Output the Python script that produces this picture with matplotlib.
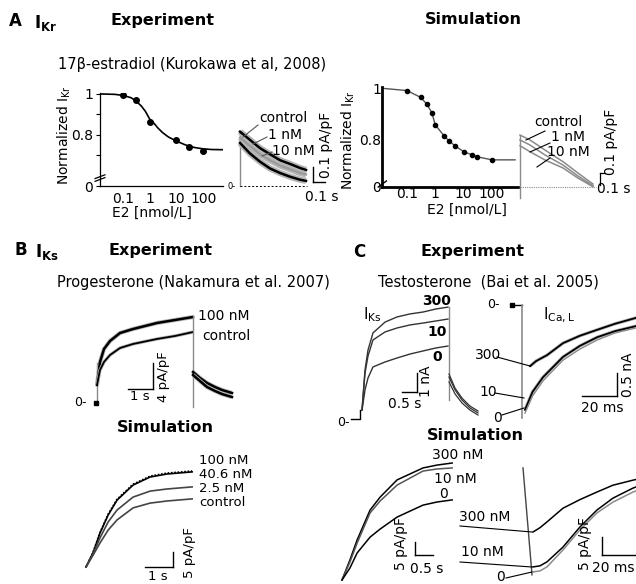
import matplotlib
matplotlib.use('Agg')
import matplotlib.pyplot as plt
from matplotlib.lines import Line2D
from matplotlib.ticker import NullLocator

W, H = 636, 584
GRAY = '#8a8a8a'

# ---------------- data ----------------
# A: normalised I_Kr vs E2 (nmol/L)
ikr_exp_conc = [0.1, 0.3, 1, 10, 30, 100]
ikr_exp_norm = [0.995, 0.97, 0.865, 0.776, 0.74, 0.723]
ikr_exp_err = [0.005, 0.005, 0.012, 0.012, 0.005, 0.008]
ikr_fit_conc = [0.0145, 0.05, 0.1, 0.2, 0.3, 0.5, 0.7, 1, 1.5, 2, 3, 5, 10, 20, 30, 50, 100, 200, 500]
ikr_fit_norm = [1.0, 0.998, 0.993, 0.982, 0.968, 0.94, 0.915, 0.878, 0.855, 0.835, 0.812, 0.79,
                0.77, 0.753, 0.745, 0.738, 0.732, 0.729, 0.728]
ikr_sim_conc = [0.013, 0.1, 0.3, 0.5, 0.75, 1, 2, 3, 5, 10, 20, 30, 100, 660]
ikr_sim_norm = [1.0, 0.991, 0.965, 0.939, 0.906, 0.858, 0.817, 0.797, 0.777, 0.755, 0.742, 0.735, 0.723, 0.723]

# A: I_Kr tail currents (s, pA/pF)
ikr_exp_t = [0, 0.083, 0.167, 0.25, 0.333, 0.417, 0.5, 0.55]
ikr_exp_ctl = [0.36, 0.305, 0.25, 0.21, 0.17, 0.145, 0.118, 0.105]
ikr_exp_1nm = [0.32, 0.265, 0.21, 0.17, 0.135, 0.11, 0.085, 0.075]
ikr_exp_10nm = [0.285, 0.215, 0.16, 0.115, 0.085, 0.06, 0.04, 0.032]
ikr_sim_t = [0, 0.083, 0.208, 0.358, 0.483, 0.608]
ikr_sim_ctl = [0.371, 0.336, 0.264, 0.181, 0.1, 0.021]
ikr_sim_1nm = [0.336, 0.3, 0.229, 0.157, 0.079, 0.009]
ikr_sim_10nm = [0.295, 0.252, 0.193, 0.136, 0.064, 0.002]

# B: I_Ks, progesterone (s, pA/pF)
iks_exp_t = [0, 0.12, 0.28, 0.52, 0.92, 1.44, 2.4, 3.12, 3.84]
iks_exp_100 = [2.77, 6.31, 8.31, 9.54, 10.77, 11.38, 12.31, 12.77, 13.23]
iks_exp_ctl = [2.77, 5.08, 6.31, 7.38, 8.46, 9.08, 9.85, 10.31, 10.92]
iks_tail_t = [3.84, 4.12, 4.4, 4.72, 5.0, 5.4]
iks_tail_100 = [4.77, 3.85, 3.08, 2.46, 2.0, 1.54]
iks_tail_ctl = [4.31, 3.38, 2.46, 1.85, 1.38, 0.92]
iks_sim_t = [0, 0.25, 0.5, 0.79, 1.11, 1.68, 2.29, 2.89, 3.79]
iks_sim_100 = [0, 4.9, 11.5, 17.6, 22.6, 27.6, 30.3, 31.3, 32.0]
iks_sim_40 = [0, 4.7, 11.3, 17.3, 22.3, 27.3, 30.0, 31.0, 31.7]
iks_sim_2p5 = [0, 4.3, 9.7, 15.0, 19.0, 23.3, 25.3, 26.0, 26.7]
iks_sim_ctl = [0, 3.9, 8.0, 12.3, 15.7, 19.7, 21.3, 22.0, 22.7]

# C: testosterone, I_Ks (s, nA) and I_Ca,L (ms, nA)
ctks_exp_t = [0.067, 0.167, 0.267, 0.433, 0.833, 1.233, 1.667, 2.1, 2.533, 2.933]
ctks_exp_300 = [0.47, 2.58, 3.63, 4.53, 5.1, 5.37, 5.53, 5.63, 5.79, 5.89]
ctks_exp_10 = [0.47, 2.42, 3.32, 4.16, 4.58, 4.79, 4.95, 5.05, 5.16, 5.26]
ctks_exp_0 = [0.47, 1.53, 2.16, 2.74, 3.0, 3.21, 3.42, 3.58, 3.74, 3.84]
ctks_tail_t = [2.967, 3.167, 3.4, 3.667, 3.933]
ctks_tail_300 = [2.37, 1.63, 1.1, 0.68, 0.42]
ctks_tail_10 = [2.21, 1.53, 1.0, 0.58, 0.32]
ctks_tail_0 = [1.95, 1.32, 0.84, 0.47, 0.21]
ccal_exp_t300 = [4.6, 8, 14.3, 23.4, 33, 42.9, 53, 65.1, 75]
ccal_exp_300 = [-1.33, -1.22, -1.09, -0.83, -0.67, -0.54, -0.41, -0.28, -0.22]
ccal_exp_t = [1.7, 6, 12, 23.4, 33, 43, 53, 65, 75]
ccal_exp_10 = [-2.28, -1.89, -1.57, -1.13, -0.89, -0.70, -0.57, -0.46, -0.4]
ccal_exp_0 = [-2.35, -1.98, -1.65, -1.2, -0.96, -0.76, -0.61, -0.5, -0.44]

# C: simulation, I_Ks (s, pA/pF) and I_Ca,L (ms, pA/pF)
ctks_sim_t = [0, 0.22, 0.42, 0.78, 1.06, 1.53, 2.25, 2.64, 3.06]
ctks_sim_300 = [0, 7.7, 15.4, 26.9, 31.9, 38.5, 43.1, 44.2, 45.0]
ctks_sim_10 = [0, 6.9, 14.2, 25.8, 30.4, 36.5, 41.9, 42.7, 43.1]
ctks_sim_0 = [0, 4.6, 10.4, 16.5, 19.6, 24.2, 28.8, 30.0, 30.8]
ccal_sim_spike_t = [0, 5.3]
ccal_sim_spike = [-2.2, -31.9]
ccal_sim_t300 = [5.9, 10, 14.1, 23.5, 33.5, 43.5, 52.9, 64.7, 75]
ccal_sim_300 = [-20, -18.8, -17.2, -13.4, -11.0, -8.9, -7.0, -5.6, -4.5]
ccal_sim_t = [5.9, 10, 14.1, 23.5, 33.5, 43.5, 52.9, 64.7, 75]
ccal_sim_10 = [-29.7, -29.4, -28.3, -24.2, -18.6, -13.9, -10.6, -7.8, -6.0]
ccal_sim_0 = [-31.1, -30.8, -29.7, -25.0, -19.4, -14.7, -11.7, -8.9, -7.0]

conc_ticks = [0.1, 1, 10, 100]
conc_labels = ['0.1', '1', '10', '100']

fig = plt.figure(figsize=(W / 100, H / 100), dpi=100)


def fx(x):
    return x / W


def fy(y):
    return 1 - y / H


def put(x, y, s, size=10, ha='center', va='center', **kw):
    fig.text(fx(x), fy(y), s, fontsize=size, ha=ha, va=va, **kw)


def leader(x1, y1, x2, y2, color='k', lw=0.8):
    fig.add_artist(Line2D([fx(x1), fx(x2)], [fy(y1), fy(y2)], color=color, lw=lw,
                          transform=fig.transFigure))


def trace_ax(x0, y0, sx, sy, box):
    # x0, y0: pixel of the data origin; sx, sy: pixels per data unit
    l, t, r, b = box
    ax = fig.add_axes([fx(l), fy(b), (r - l) / W, (b - t) / H])
    ax.set_xlim((l - x0) / sx, (r - x0) / sx)
    ax.set_ylim((y0 - b) / sy, (y0 - t) / sy)
    ax.axis('off')
    return ax


def noisy(ax, t, y, color='k', lw=1.8, halo=4.5):
    # recorded traces: a light band under a dark core
    ax.plot(t, y, color='#b5b5b5', lw=halo, solid_capstyle='butt')
    ax.plot(t, y, color=color, lw=lw)


def scalebar(ax, x, y, dx, dy, hdir=-1, color='k'):
    # vertical bar of length dy at x, horizontal bar of length dx ending at x
    ax.plot([x, x], [y, y + dy], color=color, lw=1)
    ax.plot([x + hdir * dx, x], [y, y], color=color, lw=1)


# ---------------- headings ----------------
put(15, 21, 'A', size=12, weight='bold')
put(34, 23, r'$\mathbf{I_{Kr}}$', size=12, ha='left')
put(162, 21, 'Experiment', size=11.5, weight='bold')
put(473, 20, 'Simulation', size=11.5, weight='bold')
put(58, 65, '17β-estradiol (Kurokawa et al, 2008)', size=10.5, ha='left')

put(21, 250, 'B', size=12, weight='bold')
put(35, 252, r'$\mathbf{I_{Ks}}$', size=12, ha='left')
put(160, 250, 'Experiment', size=11.5, weight='bold')
put(57, 282, 'Progesterone (Nakamura et al. 2007)', size=10.5, ha='left')
put(165, 428, 'Simulation', size=11.5, weight='bold')

put(359, 252, 'C', size=12, weight='bold')
put(473, 252, 'Experiment', size=11.5, weight='bold')
put(378, 282, 'Testosterone  (Bai et al. 2005)', size=10.5, ha='left')
put(475, 435, 'Simulation', size=11.5, weight='bold')

# ---------------- A: dose response, experiment ----------------
ax1 = fig.add_axes([fx(100), fy(186), 123 / W, 93.3 / H])
ax1.set_xscale('log')
ax1.plot(ikr_fit_conc, ikr_fit_norm, color='k', lw=1.2)
ax1.errorbar(ikr_exp_conc, ikr_exp_norm, yerr=ikr_exp_err, fmt='o', color='k', ms=4,
             capsize=0, elinewidth=1)
ax1.set_xlim(10 ** -1.844, 10 ** 2.729)
ax1.set_ylim(0.551, 1.006)
ax1.set_xticks(conc_ticks, conc_labels)
ax1.xaxis.set_minor_locator(NullLocator())
ax1.tick_params(axis='x', length=0, pad=4, labelsize=10)
ax1.set_yticks([0.551, 0.8, 1.0], ['0', '0.8', '1'])
ax1.set_yticks([0.7, 0.9], minor=True)
ax1.tick_params(axis='y', which='both', length=3, width=0.8, pad=2, labelsize=10)
for s in ['top', 'right']:
    ax1.spines[s].set_visible(False)
for s in ['left', 'bottom']:
    ax1.spines[s].set_linewidth(0.9)
ax1.plot([-0.04, 0.04], [0.08, 0.12], transform=ax1.transAxes, color='k', lw=0.9, clip_on=False)
ax1.plot([-0.04, 0.04], [0.05, 0.09], transform=ax1.transAxes, color='k', lw=0.9, clip_on=False)
put(64, 135, r'Normalized I$_{\mathrm{Kr}}$', rotation=90)
put(152, 213, 'E2 [nmol/L]')

# ---------------- A: dose response, simulation ----------------
ax2 = fig.add_axes([fx(382.3), fy(187), (518 - 382.3) / W, (187 - 86.7) / H])
ax2.set_xscale('log')
ax2.plot(ikr_sim_conc, ikr_sim_norm, color='#555555', lw=1, marker='o', ms=3,
         mfc='k', mec='k', markevery=slice(1, -1))
ax2.set_xlim(10 ** -1.873, 10 ** 2.922)
ax2.set_ylim(0.618, 1.006)
ax2.set_xticks(conc_ticks, conc_labels)
ax2.xaxis.set_minor_locator(NullLocator())
ax2.tick_params(axis='x', length=0, pad=0, labelsize=10)
ax2.set_yticks([0.618, 0.8, 1.0], ['0', '0.8', '1'])
ax2.tick_params(axis='y', length=0, pad=1, labelsize=10)
for s in ['top', 'right']:
    ax2.spines[s].set_visible(False)
for s in ['left', 'bottom']:
    ax2.spines[s].set_linewidth(2)
ax2.plot([-0.03, 0.03], [0.0, 0.06], transform=ax2.transAxes, color='k', lw=1, clip_on=False)
put(348, 140, r'Normalized I$_{\mathrm{Kr}}$', rotation=90)
put(467, 210, 'E2 [nmol/L]')

# ---------------- A: tail currents, experiment ----------------
ta = trace_ax(240, 185.7, 120, 150, (225, 105, 345, 205))
ta.plot([0, 0], [0, ikr_exp_ctl[0]], color=GRAY, lw=1)
ta.plot([0, 0.56], [0, 0], color='k', lw=0.7, ls=(0, (2, 2)))
noisy(ta, ikr_exp_t, ikr_exp_ctl)
noisy(ta, ikr_exp_t, ikr_exp_1nm, color='#9a9a9a', lw=1.6)
noisy(ta, ikr_exp_t, ikr_exp_10nm)
scalebar(ta, 0.608, 0.025, -0.1, 0.1, hdir=-1)
put(236, 186, '0-', size=6, ha='right')
put(283, 118, 'control')
put(285, 135, '1 nM')
put(293, 151, '10 nM')
leader(258, 125, 243, 137, color='#555555')
leader(267, 137, 253, 144, color='#555555')
leader(272, 152, 262, 156, color='#555555')
put(326, 145, '0.1 pA/pF', rotation=90)
put(322, 197, '0.1 s')

# ---------------- A: tail currents, simulation ----------------
tb = trace_ax(520, 187, 120, 140, (505, 105, 636, 205))
tb.plot([0, 0], [-0.079, ikr_sim_ctl[0]], color=GRAY, lw=1)
tb.plot([0, 0.633], [0, 0], color=GRAY, lw=0.8, ls=(0, (1, 1)))
tb.plot(ikr_sim_t, ikr_sim_ctl, color=GRAY, lw=1.1)
tb.plot(ikr_sim_t, ikr_sim_1nm, color=GRAY, lw=1.1)
tb.plot(ikr_sim_t, ikr_sim_10nm, color=GRAY, lw=1.1)
tb.plot([0.667, 0.667], [0.014, 0.1], color='k', lw=0.9)
tb.plot([0.667, 0.71], [0.1, 0.1], color='k', lw=0.9)
put(558, 122, 'control')
put(568, 137, '1 nM')
put(568, 152, '10 nM')
leader(545, 131, 526, 140)
leader(550, 143, 530, 152)
leader(550, 158, 537, 167)
put(611, 142, '0.1 pA/pF', rotation=90)
put(614, 189, '0.1 s')

# ---------------- B: I_Ks experiment ----------------
tc = trace_ax(97, 403, 25, 6.5, (60, 300, 260, 420))
tc.plot([0, 0], [0, 6.15], color=GRAY, lw=1)
tc.plot([-0.04], [0], marker='s', color='k', ms=3)
noisy(tc, iks_exp_t, iks_exp_100, lw=1.8, halo=3)
noisy(tc, iks_exp_t, iks_exp_ctl, lw=1.3, halo=2.4)
tc.plot([3.84, 3.84], [-0.6, 13.4], color=GRAY, lw=1)
noisy(tc, iks_tail_t, iks_tail_100, lw=1.8, halo=3)
noisy(tc, iks_tail_t, iks_tail_ctl, lw=1.8, halo=3)
scalebar(tc, 2.24, 2.15, 1.0, 4.0)
put(87, 403, '0-', size=9, ha='right')
put(198, 316, '100 nM', ha='left')
put(202, 336, 'control', ha='left')
put(140, 397, '1 s', size=9.5)
put(163, 377, '4 pA/pF', size=9.5, rotation=90)

# ---------------- B: I_Ks simulation ----------------
td = trace_ax(86, 567, 28, 3, (60, 450, 260, 584))
td.plot(iks_sim_t, iks_sim_40, color='k', lw=1.2)
td.plot(iks_sim_t, iks_sim_100, color='k', lw=1.2, ls=(0, (1, 1)))
td.plot(iks_sim_t, iks_sim_2p5, color='#444444', lw=1.2)
td.plot(iks_sim_t, iks_sim_ctl, color='#444444', lw=1.2)
scalebar(td, 3.107, 0, 1.0, 5.0)
put(199, 461, '100 nM', size=9.5, ha='left')
put(199, 474, '40.6 nM', size=9.5, ha='left')
put(199, 489, '2.5 nM', size=9.5, ha='left')
put(199, 502, 'control', size=9.5, ha='left')
put(158, 577, '1 s', size=9.5)
put(190, 553, '5 pA/pF', size=9.5, rotation=90)

# ---------------- C: I_Ks experiment ----------------
te = trace_ax(360, 419, 30, 19, (335, 295, 490, 425))
te.plot([-0.3, 0, 0], [0, 0, 0.47], color='k', lw=1)
te.plot(ctks_exp_t, ctks_exp_300, color='#333333', lw=1)
te.plot(ctks_exp_t, ctks_exp_10, color='#333333', lw=1)
te.plot(ctks_exp_t, ctks_exp_0, color='#333333', lw=1)
te.plot([2.95, 2.95], [1.0, 5.9], color=GRAY, lw=1)
te.plot(ctks_tail_t, ctks_tail_300, color='#333333', lw=0.9)
te.plot(ctks_tail_t, ctks_tail_10, color='#333333', lw=0.9)
te.plot(ctks_tail_t, ctks_tail_0, color='#333333', lw=0.9)
scalebar(te, 1.9, 1.42, 0.5, 1.0)
put(350, 422, '0-', size=9, ha='right')
put(363, 315, r'I$_{\mathrm{Ks}}$', size=11, ha='left')
put(437, 301, '300', weight='bold')
put(437, 332, '10', weight='bold')
put(437, 357, '0', weight='bold')
put(405, 404, '0.5 s')
put(426, 381, '1 nA', rotation=90)

# ---------------- C: I_Ca,L experiment ----------------
tf = trace_ax(522, 305, 1.75, 46, (490, 295, 636, 425))
tf.plot([-6, 0], [0, 0], color='k', lw=1)
tf.plot([-5.7], [0], marker='s', color='k', ms=3)
tf.plot([0, 0], [0, -2.46], color=GRAY, lw=1.2)
noisy(tf, ccal_exp_t300, ccal_exp_300, lw=1.3, halo=2.4)
noisy(tf, ccal_exp_t, ccal_exp_10, lw=1.3, halo=2.4)
tf.plot(ccal_exp_t, ccal_exp_0, color=GRAY, lw=1)
scalebar(tf, 54.3, -1.98, 20, 0.5)
put(500, 305, '0-', size=9, ha='right')
put(543, 315, r'I$_{\mathrm{Ca,L}}$', size=11, ha='left')
put(488, 355, '300')
put(488, 392, '10')
put(497, 418, '0')
leader(497, 357, 530, 366)
leader(495, 393, 524, 398)
leader(502, 415, 524, 408)
put(602, 408, '20 ms')
put(628, 375, '0.5 nA', rotation=90)

# ---------------- C: I_Ks simulation ----------------
tg = trace_ax(342, 580, 36, 2.6, (335, 450, 495, 584))
tg.plot(ctks_sim_t, ctks_sim_300, color='k', lw=1.1)
tg.plot(ctks_sim_t, ctks_sim_10, color='#555555', lw=1.1)
tg.plot(ctks_sim_t, ctks_sim_0, color='k', lw=1.1)
scalebar(tg, 2.03, 9.6, -0.5, 5.0)
put(458, 455, '300 nM')
put(455, 479, '10 nM')
put(443, 494, '0')
put(427, 569, '0.5 s')
put(401, 543, '5 pA/pF', rotation=90)

# ---------------- C: I_Ca,L simulation ----------------
th = trace_ax(523, 460, 1.7, 3.6, (495, 455, 636, 584))
th.plot(ccal_sim_spike_t, ccal_sim_spike, color='#444444', lw=1)
th.plot(ccal_sim_t300, ccal_sim_300, color='k', lw=1.1)
th.plot(ccal_sim_t, ccal_sim_10, color='k', lw=1.1)
th.plot(ccal_sim_t, ccal_sim_0, color=GRAY, lw=1.1)
scalebar(th, 46.5, -26.4, -20, 5.0)
put(485, 517, '300 nM')
put(482, 552, '10 nM')
put(500, 577, '0')
leader(460, 526, 532, 532)
leader(460, 562, 532, 567)
leader(506, 578, 532, 572)
put(613, 568, '20 ms')
put(585, 543, '5 pA/pF', rotation=90)

fig.savefig('out.png', dpi=100)
